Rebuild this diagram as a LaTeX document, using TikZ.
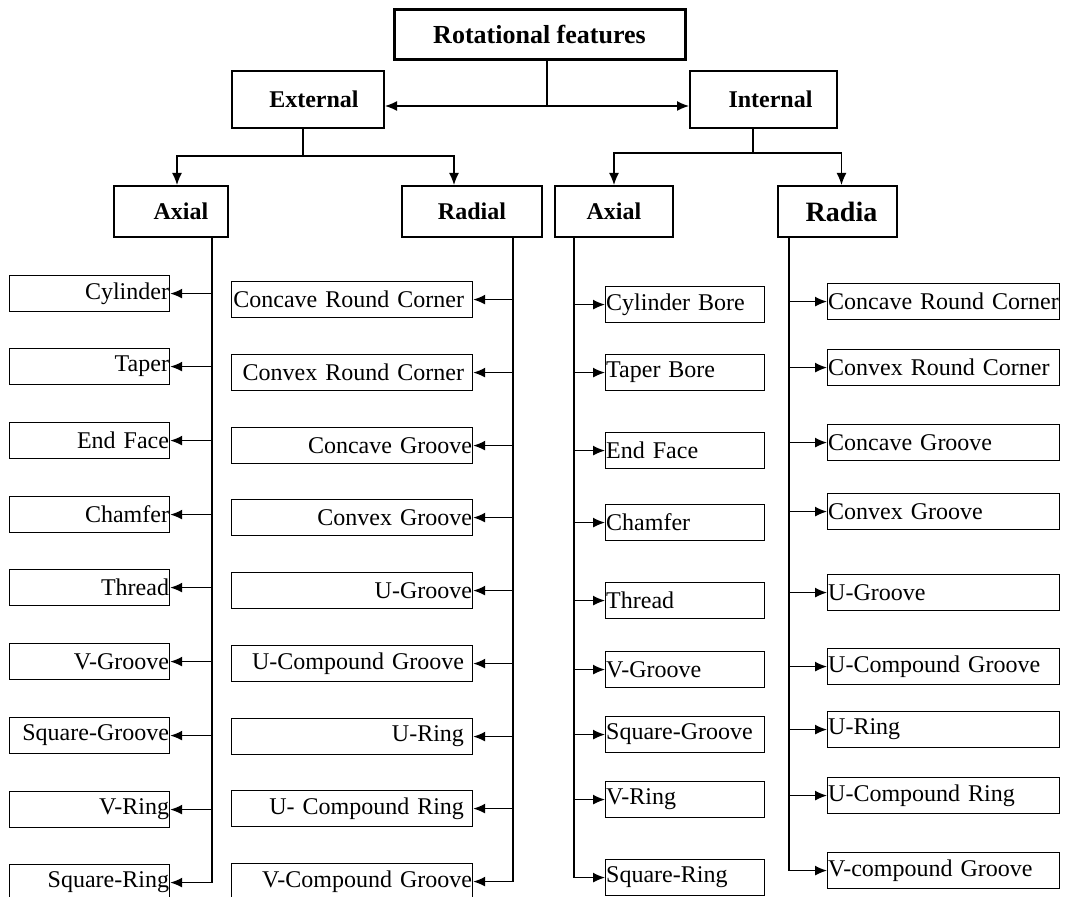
\documentclass[tikz,border=0pt]{standalone}
\usepackage{fontspec}
\setmainfont{Liberation Serif}
\usetikzlibrary{arrows.meta}
\tikzset{
  leaf/.style={draw, line width=0.6pt, minimum height=18pt, inner ysep=0pt,
    inner xsep=0.3pt, anchor=north west, font=\fontsize{12}{14}\selectfont},
  extax/.style={leaf, align=right, text width=79.4pt},
  extrad/.style={leaf, align=right, text width=119.9pt},
  intax/.style={leaf, align=left, text width=78.9pt},
  intrad/.style={leaf, align=left, text width=115.4pt},
  padr/.style={execute at end node={\hspace*{4pt}}},
  head/.style={draw, line width=1pt, minimum height=25.5pt,
    font=\fontsize{12}{14}\selectfont\bfseries},
  tip/.style={-{Latex[length=6pt,width=5pt]}},
}

\begin{document}
\begin{tikzpicture}[x=0.5pt,y=-0.5pt,line width=0.7pt]
    \useasboundingbox (0,0) rectangle (1078,897);

    % the headings
    \node[head, line width=1.5pt, minimum width=145.5pt, minimum height=25pt,
          font=\fontsize{13}{15}\selectfont\bfseries] (rot) at (539.5,35) {Rotational features};
    \node[head, minimum width=76pt, minimum height=28.5pt] (ext) at (308,99.5) {\hspace*{6pt}External};
    \node[head, minimum width=73.5pt, minimum height=28.5pt] (int) at (763.5,99.5) {\hspace*{7pt}Internal};
    \node[head, minimum width=57pt] (eaxial) at (171,211.5) {\hspace*{10pt}Axial};
    \node[head, minimum width=70pt] (eradial) at (472,211.5) {Radial};
    \node[head, minimum width=59pt] (iaxial) at (614,211.5) {Axial};
    \node[head, minimum width=59.5pt, font=\fontsize{14}{16}\selectfont\bfseries] (iradial) at (837.5,211.5) {\hspace*{4pt}Radia};

    % joints of the forks and tops of the spines
    \coordinate (tj) at (547,106);
    \coordinate (ej) at (303,156);
    \coordinate (ij) at (753,153);
    \coordinate (eas) at ([xshift=20.5pt]eaxial.south);
    \coordinate (ers) at ([xshift=20.5pt]eradial.south);
    \coordinate (ias) at ([xshift=-20pt]iaxial.south);
    \coordinate (irs) at ([xshift=-24.25pt]iradial.south);

    % external, axial
    \node[extax] (ea1) at (9,275) {Cylinder};
    \node[extax] (ea2) at (9,348) {Taper};
    \node[extax] (ea3) at (9,422) {End Face};
    \node[extax] (ea4) at (9,496) {Chamfer};
    \node[extax] (ea5) at (9,569) {Thread};
    \node[extax] (ea6) at (9,643) {V-Groove};
    \node[extax] (ea7) at (9,717) {Square-Groove};
    \node[extax] (ea8) at (9,791) {V-Ring};
    \node[extax] (ea9) at (9,864) {Square-Ring};

    % external, radial
    \node[extrad, padr] (er1) at (231,281) {Concave Round Corner};
    \node[extrad, padr] (er2) at (231,354) {Convex Round Corner};
    \node[extrad] (er3) at (231,427) {Concave Groove};
    \node[extrad] (er4) at (231,499) {Convex Groove};
    \node[extrad] (er5) at (231,572) {U-Groove};
    \node[extrad, padr] (er6) at (231,645) {U-Compound Groove};
    \node[extrad, padr] (er7) at (231,718) {U-Ring};
    \node[extrad, padr] (er8) at (231,790) {U- Compound Ring};
    \node[extrad] (er9) at (231,863) {V-Compound Groove};

    % internal, axial
    \node[intax] (ia1) at (605,286) {Cylinder Bore};
    \node[intax] (ia2) at (605,354) {Taper Bore};
    \node[intax] (ia3) at (605,432) {End Face};
    \node[intax] (ia4) at (605,504) {Chamfer};
    \node[intax] (ia5) at (605,582) {Thread};
    \node[intax] (ia6) at (605,651) {V-Groove};
    \node[intax] (ia7) at (605,716) {Square-Groove};
    \node[intax] (ia8) at (605,781) {V-Ring};
    \node[intax] (ia9) at (605,859) {Square-Ring};

    % internal, radial
    \node[intrad] (ir1) at (827,283) {Concave Round Corner};
    \node[intrad] (ir2) at (827,349) {Convex Round Corner};
    \node[intrad] (ir3) at (827,424) {Concave Groove};
    \node[intrad] (ir4) at (827,493) {Convex Groove};
    \node[intrad] (ir5) at (827,574) {U-Groove};
    \node[intrad] (ir6) at (827,648) {U-Compound Groove};
    \node[intrad] (ir7) at (827,711) {U-Ring};
    \node[intrad] (ir8) at (827,777) {U-Compound Ring};
    \node[intrad] (ir9) at (827,852) {V-compound Groove};

    % forks under the headings
    \draw (rot.south -| tj) -- (tj);
    \draw[{Latex[length=6pt,width=5pt]}-{Latex[length=6pt,width=5pt]}] (ext.east |- tj) -- (int.west |- tj);
    \draw (ext.south -| ej) -- (ej);
    \draw[tip] (ej) -| ([xshift=3pt]eaxial.north);
    \draw[tip] (ej) -| ([xshift=-9pt]eradial.north);
    \draw (int.south -| ij) -- (ij);
    \draw[tip] (ij) -| (iaxial.north);
    \draw[tip] (ij) -| ([xshift=2pt]iradial.north);

    % spines and their arrows
    \draw[tip] (eas) |- (ea9.east);
    \draw[tip] (ers) |- (er9.east);
    \draw[tip] (ias) |- (ia9.west);
    \draw[tip] (irs) |- (ir9.west);
    \foreach \i in {1,...,8} {
      \draw[tip] (eas |- ea\i.east) -- (ea\i.east);
      \draw[tip] (ers |- er\i.east) -- (er\i.east);
      \draw[tip] (ias |- ia\i.west) -- (ia\i.west);
      \draw[tip] (irs |- ir\i.west) -- (ir\i.west);
    }
\end{tikzpicture}
\end{document}
